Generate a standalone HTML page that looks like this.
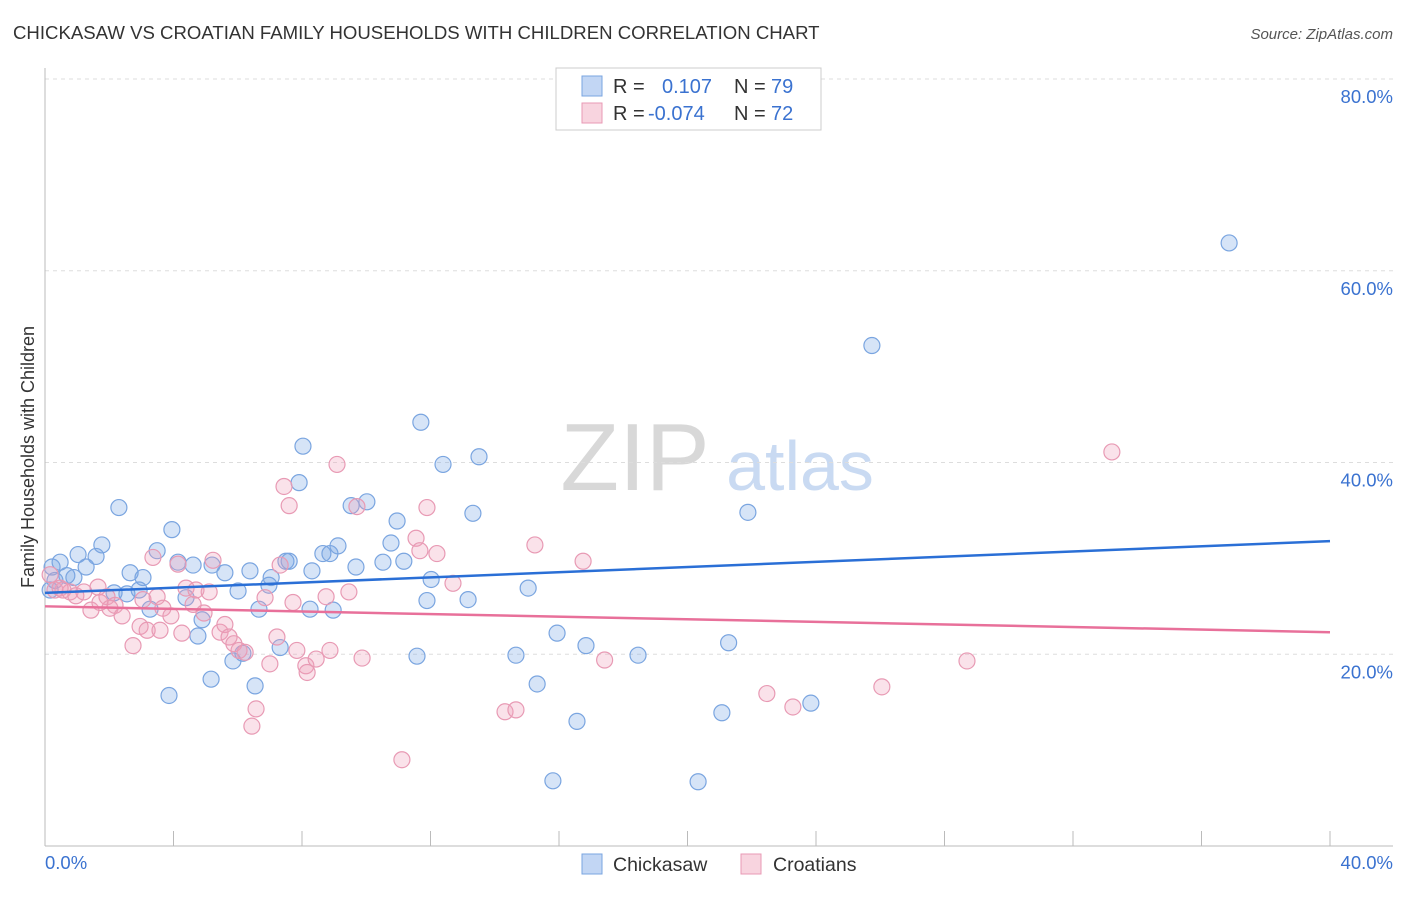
<!DOCTYPE html>
<html><head><meta charset="utf-8"><style>
body{margin:0;background:#fff;font-family:"Liberation Sans",sans-serif;}
svg text{font-family:"Liberation Sans",sans-serif;}
</style></head><body>
<svg id="chart" width="1406" height="892" xmlns="http://www.w3.org/2000/svg">
<text x="13" y="39" font-size="18.6" fill="#333">CHICKASAW VS CROATIAN FAMILY HOUSEHOLDS WITH CHILDREN CORRELATION CHART</text>
<text x="1393" y="39" font-size="15" fill="#555" text-anchor="end" font-style="italic">Source: ZipAtlas.com</text>
<g>
<text x="635" y="490" font-size="96" fill="#d8d8d8" text-anchor="middle" font-family="Liberation Serif, serif">ZIP</text>
<text x="800" y="490" font-size="70" fill="#c9daf2" text-anchor="middle">atlas</text>
</g>
<g id="grid"></g>
<g id="axes"></g>
<g id="marks"></g>
<text transform="translate(34,457) rotate(-90)" font-size="18" fill="#333" text-anchor="middle">Family Households with Children</text>
<g>
<rect x="556" y="68" width="265" height="62" fill="#fff" stroke="#ccc"/>
<rect x="582" y="76" width="20" height="20" fill="rgba(120,165,230,0.45)" stroke="#7aa5e0"/>
<rect x="582" y="103" width="20" height="20" fill="rgba(240,160,185,0.45)" stroke="#e89ab4"/>
<text x="613" y="93" font-size="20" fill="#333">R =</text>
<text x="662" y="93" font-size="20" fill="#3a72d0">0.107</text>
<text x="734" y="93" font-size="20" fill="#333">N =</text>
<text x="771" y="93" font-size="20" fill="#3a72d0">79</text>
<text x="613" y="120" font-size="20" fill="#333">R =</text>
<text x="648" y="120" font-size="20" fill="#3a72d0">-0.074</text>
<text x="734" y="120" font-size="20" fill="#333">N =</text>
<text x="771" y="120" font-size="20" fill="#3a72d0">72</text>
</g>
<g>
<rect x="582" y="854" width="20" height="20" fill="rgba(120,165,230,0.45)" stroke="#7aa5e0"/>
<text x="613" y="871" font-size="19.5" fill="#333">Chickasaw</text>
<rect x="741" y="854" width="20" height="20" fill="rgba(240,160,185,0.45)" stroke="#e89ab4"/>
<text x="773" y="871" font-size="19.5" fill="#333">Croatians</text>
</g>
</svg>
<script>
const yTicks=[20,40,60,80];
const yTickLabels=["20.0%","40.0%","60.0%","80.0%"];
const xTickLabels=["0.0%","40.0%"];
const blueX=[0.22,0.47,0.68,0.90,1.03,1.28,1.59,1.77,2.30,2.15,2.65,3.05,2.93,2.55,3.27,3.49,3.95,3.86,4.14,4.39,4.61,4.76,4.89,5.17,5.20,5.60,5.85,6.01,6.16,6.38,6.54,6.66,6.97,7.04,7.32,7.50,7.60,7.91,8.03,8.31,8.25,8.65,8.87,8.97,9.12,9.53,9.68,10.02,10.52,10.77,10.96,11.17,11.58,11.70,11.89,12.02,12.39,13.17,13.32,13.51,14.66,15.04,15.32,15.81,15.94,16.56,16.84,18.46,20.33,21.07,21.28,21.88,23.84,25.74,36.86,0.31,0.16];
const blueY=[29.1,29.6,28.2,28.0,30.4,29.1,30.2,31.4,35.3,26.4,28.5,28.0,26.7,26.3,24.7,30.8,33.0,15.7,29.6,25.9,29.3,21.9,23.6,17.4,29.3,28.5,19.3,26.6,20.1,28.7,16.7,24.7,27.2,28.0,20.7,29.7,29.7,37.9,41.7,28.7,24.7,30.5,30.5,24.6,31.3,35.5,29.1,35.9,29.6,31.6,33.9,29.7,19.8,44.2,25.6,27.8,39.8,25.7,34.7,40.6,19.9,26.9,16.9,6.8,22.2,13.0,20.9,19.9,6.7,13.9,21.2,34.8,14.9,52.2,62.9,27.7,26.7];
const pinkX=[0.16,0.31,0.56,0.78,0.96,1.21,1.43,1.65,1.93,2.02,2.18,2.40,2.74,2.96,3.05,3.18,3.36,3.49,3.58,3.67,3.92,4.14,4.26,4.39,4.61,4.70,4.95,5.11,5.23,5.45,5.60,5.73,5.88,6.04,6.23,6.44,6.57,6.85,7.00,7.22,7.44,7.60,7.72,7.84,8.12,8.16,8.44,8.75,8.87,9.09,9.46,9.71,9.87,11.55,11.67,11.89,12.20,12.70,11.11,14.32,14.66,15.25,16.75,17.42,22.47,23.28,26.05,28.70,33.21,0.47,1.71,7.32];
const pinkY=[28.3,26.7,26.7,26.5,26.1,26.5,24.6,27.0,26.0,24.8,25.1,24.0,20.9,22.9,25.7,22.5,30.1,26.0,22.5,24.8,24.0,29.4,22.2,26.9,25.2,26.7,24.3,26.5,29.8,22.3,23.1,21.8,21.1,20.4,20.2,12.5,14.3,25.9,19.0,21.8,37.5,35.5,25.4,20.4,18.8,18.1,19.5,26.0,20.4,39.8,26.5,35.4,19.6,32.1,30.8,35.3,30.5,27.4,9.0,14.0,14.2,31.4,29.7,19.4,15.9,14.5,16.6,19.3,41.1,26.9,25.4,29.3];
const blueTrend=[26.4,31.8];
const pinkTrend=[25.0,22.3];
const trendX=[0,40];

const NS="http://www.w3.org/2000/svg";
const X0=45,X1=1330,Y0=846,PPY=9.5875;
function sx(v){return X0+v/40*(X1-X0);}
function sy(v){return Y0-v*PPY;}
function mk(tag,attrs,parent){const e=document.createElementNS(NS,tag);for(const k in attrs)e.setAttribute(k,attrs[k]);parent.appendChild(e);return e;}
const grid=document.getElementById('grid'),axes=document.getElementById('axes'),marks=document.getElementById('marks');
yTicks.forEach((t,i)=>{
  const l=mk('line',{x1:45,x2:1393,y1:sy(t),y2:sy(t),stroke:'#ddd','stroke-dasharray':'4,4'},grid);
  
  
  const tx=mk('text',{x:1393,y:sy(t)+24,'font-size':18.5,fill:'#3a72d0','text-anchor':'end'},axes);
  tx.textContent=yTickLabels[i];
  
  
});
const ya=mk('line',{x1:45,x2:45,y1:68,y2:846,stroke:'#bbb'},axes);


const xa=mk('line',{x1:45,x2:1393,y1:846,y2:846,stroke:'#bbb'},axes);


for(let i=1;i<=10;i++){
  const t=mk('line',{x1:sx(i*4),x2:sx(i*4),y1:831,y2:846,stroke:'#bbb'},axes);
  
  
}
const xl0=mk('text',{x:45,y:869,'font-size':18.5,fill:'#3a72d0'},axes);xl0.textContent=xTickLabels[0];


const xl1=mk('text',{x:1393,y:869,'font-size':18.5,fill:'#3a72d0','text-anchor':'end'},axes);xl1.textContent=xTickLabels[1];



blueX.forEach((v,i)=>{
  const c=mk('circle',{cx:sx(v),cy:sy(blueY[i]),r:8,fill:'rgba(120,165,230,0.3)',stroke:'#7aa5e0','stroke-width':1.2},marks);
  
  
});
pinkX.forEach((v,i)=>{
  const c=mk('circle',{cx:sx(v),cy:sy(pinkY[i]),r:8,fill:'rgba(240,160,185,0.3)',stroke:'#e89ab4','stroke-width':1.2},marks);
  
  
});
const bt=mk('line',{x1:sx(trendX[0]),y1:sy(blueTrend[0]),x2:sx(trendX[1]),y2:sy(blueTrend[1]),stroke:'#2a6fd6','stroke-width':2.5},marks);


const pt=mk('line',{x1:sx(trendX[0]),y1:sy(pinkTrend[0]),x2:sx(trendX[1]),y2:sy(pinkTrend[1]),stroke:'#e8709a','stroke-width':2.5},marks);


</script>
</body></html>
